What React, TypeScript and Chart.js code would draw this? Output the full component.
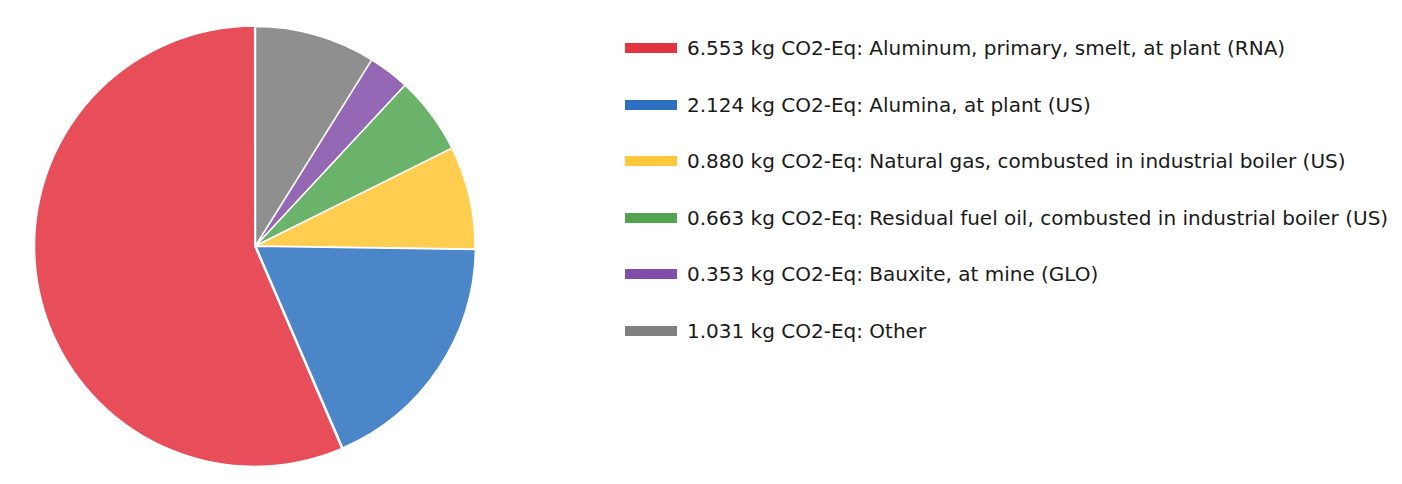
import React, { useEffect, useRef } from "react";
import { Chart, registerables } from "chart.js";

Chart.register(...registerables);

const categories: string[] = [
  "Aluminum, primary, smelt, at plant (RNA)",
  "Alumina, at plant (US)",
  "Natural gas, combusted in industrial boiler (US)",
  "Residual fuel oil, combusted in industrial boiler (US)",
  "Bauxite, at mine (GLO)",
  "Other",
];
const values: number[] = [6.553, 2.124, 0.88, 0.663, 0.353, 1.031];
const unit = "kg CO2-Eq";
const sliceColors: string[] = ["#E84D5A", "#4A86C8", "#FFCD4F", "#6BB36A", "#9568B6", "#8F8F8F"];
const legendColors: string[] = ["#E5333F", "#2E6FC2", "#FFC73B", "#52A352", "#7F4EAB", "#808080"];
const sliceOffsets: number[] = [3, 2, 0, 0, 0, 0];

export default function App() {
  const canvasRef = useRef<HTMLCanvasElement | null>(null);

  useEffect(() => {
    if (!canvasRef.current) return;
    // reverse order so slices run counter-clockwise from 12 o'clock
    const labels = [...categories].reverse();
    const data = [...values].reverse();
    const bg = [...sliceColors].reverse();
    const off = [...sliceOffsets].reverse();
    const chart = new Chart(canvasRef.current, {
      type: "pie",
      data: {
        labels,
        datasets: [
          {
            data,
            backgroundColor: bg,
            borderColor: "#ffffff",
            borderWidth: 1.5,
            offset: off,
            radius: 219.5,
          } as any,
        ],
      },
      options: {
        animation: false,
        responsive: true,
        maintainAspectRatio: false,
        layout: { padding: { top: 8, bottom: 0, left: 0, right: 0 } },
        plugins: {
          legend: { display: false },
          tooltip: { enabled: false },
        },
      },
    });
    return () => chart.destroy();
  }, []);

  return (
    <div
      style={{
        position: "absolute",
        left: 0,
        top: 0,
        width: 1402,
        height: 484,
        background: "#ffffff",
        overflow: "hidden",
      }}
    >
      <div style={{ position: "absolute", left: 0, top: 0, width: 511, height: 484 }}>
        <canvas ref={canvasRef} />
      </div>
      {categories.map((c, i) => (
        <div
          key={c}
          style={{
            position: "absolute",
            left: 625,
            top: 48 + i * 56.6 - 12,
            height: 24,
            display: "flex",
            alignItems: "center",
            whiteSpace: "nowrap",
            fontFamily: "'DejaVu Sans', sans-serif",
            fontSize: 20,
            color: "#1a1a1a",
          }}
        >
          <span
            style={{
              display: "inline-block",
              width: 52,
              height: 10,
              background: legendColors[i],
              marginRight: 10,
            }}
          />
          <span>{`${values[i].toFixed(3)} ${unit}: ${c}`}</span>
        </div>
      ))}
    </div>
  );
}
